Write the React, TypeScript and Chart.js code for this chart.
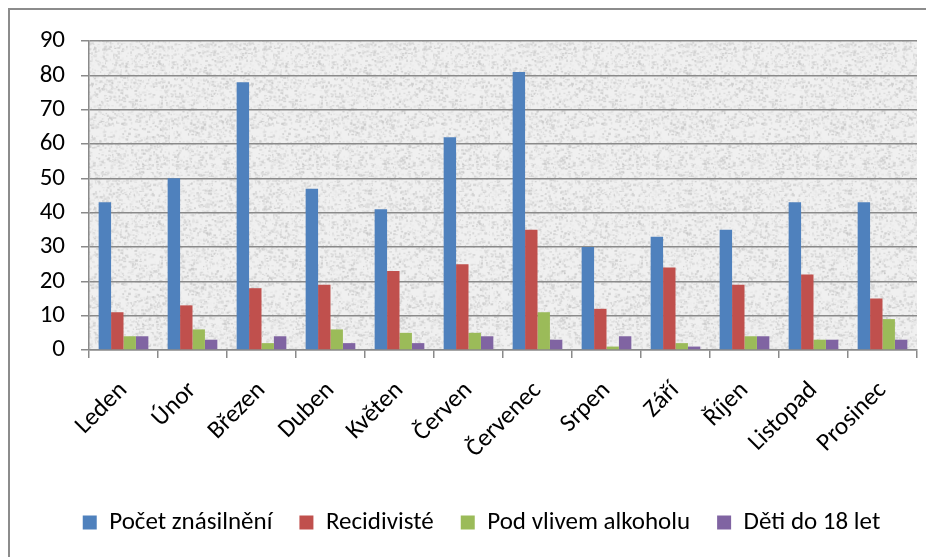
import React, { useEffect, useRef } from "react";
import { Chart, registerables } from "chart.js";

Chart.register(...registerables);

const categories = ["Leden", "Únor", "Březen", "Duben", "Květen", "Červen", "Červenec", "Srpen", "Září", "Říjen", "Listopad", "Prosinec"];
const pocetZnasilneni = [43, 50, 78, 47, 41, 62, 81, 30, 33, 35, 43, 43];
const recidiviste = [11, 13, 18, 19, 23, 25, 35, 12, 24, 19, 22, 15];
const podVlivemAlkoholu = [4, 6, 2, 6, 5, 5, 11, 1, 2, 4, 3, 9];
const detiDo18 = [4, 3, 4, 2, 2, 4, 3, 4, 1, 4, 3, 3];
const seriesNames = ["Počet znásilnění", "Recidivisté", "Pod vlivem alkoholu", "Děti do 18 let"];
const seriesColors = ["#4F81BD", "#C0504D", "#9BBB59", "#8064A2"];

const FONT = "Carlito, 'Liberation Sans Narrow', 'Open Sans', sans-serif";

function makeTexture(): CanvasPattern | string {
  const c = document.createElement("canvas");
  c.width = 160;
  c.height = 160;
  const g = c.getContext("2d");
  if (!g) return "#e8e8e8";
  g.fillStyle = "#f0f0f0";
  g.fillRect(0, 0, 160, 160);
  let s = 12345;
  const rnd = () => {
    s = (s * 1103515245 + 12345) & 0x7fffffff;
    return s / 0x7fffffff;
  };
  for (let i = 0; i < 3600; i++) {
    const x = rnd() * 160;
    const y = rnd() * 160;
    const v = Math.floor(192 + rnd() * 45);
    g.fillStyle = `rgba(${v},${v},${v},0.6)`;
    g.fillRect(x, y, 1 + rnd() * 2, 1 + rnd() * 1.5);
  }
  const p = g.createPattern(c, "repeat");
  return p || "#e8e8e8";
}

const bgPlugin = {
  id: "plotBg",
  afterLayout(chart: any) {
    const lg = chart.legend;
    if (lg) {
      lg.left += 18;
      lg.right += 18;
    }
  },
  beforeDraw(chart: any) {
    const { ctx, chartArea } = chart;
    if (!chartArea) return;
    ctx.save();
    ctx.fillStyle = chart.$tex || (chart.$tex = makeTexture());
    ctx.fillRect(chartArea.left, chartArea.top, chartArea.right - chartArea.left, chartArea.bottom - chartArea.top);
    ctx.restore();
  },
};

export default function App() {
  const ref = useRef<HTMLCanvasElement>(null);
  useEffect(() => {
    if (!ref.current) return;
    const values = [pocetZnasilneni, recidiviste, podVlivemAlkoholu, detiDo18];
    const chart = new Chart(ref.current, {
      type: "bar",
      data: {
        labels: categories,
        datasets: values.map((d, i) => ({
          label: seriesNames[i],
          data: d,
          backgroundColor: seriesColors[i],
          borderWidth: 0,
          categoryPercentage: 0.72,
          barPercentage: 1,
        })),
      },
      options: {
        responsive: false,
        animation: false,
        devicePixelRatio: 1,
        layout: { padding: { left: 0, top: 26, right: 17, bottom: 12 } },
        plugins: {
          legend: {
            position: "bottom",
            labels: {
              boxWidth: 14,
              boxHeight: 14,
              padding: 27,
              color: "#000",
              font: { family: FONT, size: 25 },
            },
          },
          tooltip: { enabled: false },
        },
        scales: {
          x: {
            afterFit: (s: any) => { s.height = 133; },
            grid: { drawOnChartArea: false, tickLength: 8, color: "#8a8a8a", lineWidth: 1.5, offset: true },
            border: { color: "#8a8a8a", width: 1.5 },
            ticks: { color: "#000", font: { family: FONT, size: 25 }, minRotation: 45, maxRotation: 45, padding: 18 },
          },
          y: {
            min: 0,
            max: 90,
            afterFit: (s: any) => { s.width = 79; },
            grid: { color: "#8a8a8a", lineWidth: 1.5, tickLength: 8 },
            border: { color: "#8a8a8a", width: 1.5 },
            ticks: { stepSize: 10, color: "#000", font: { family: FONT, size: 25 }, padding: 16 },
          },
        },
      },
      plugins: [bgPlugin],
    });
    return () => chart.destroy();
  }, []);
  return (
    <div
      style={{
        width: 926,
        height: 549,
        borderTop: "2px solid #8c8c8c",
        borderLeft: "2px solid #8c8c8c",
        boxSizing: "border-box",
        position: "relative",
        background: "#fff",
      }}
    >
      <canvas ref={ref} width={924} height={547} style={{ display: "block" }} />
    </div>
  );
}
